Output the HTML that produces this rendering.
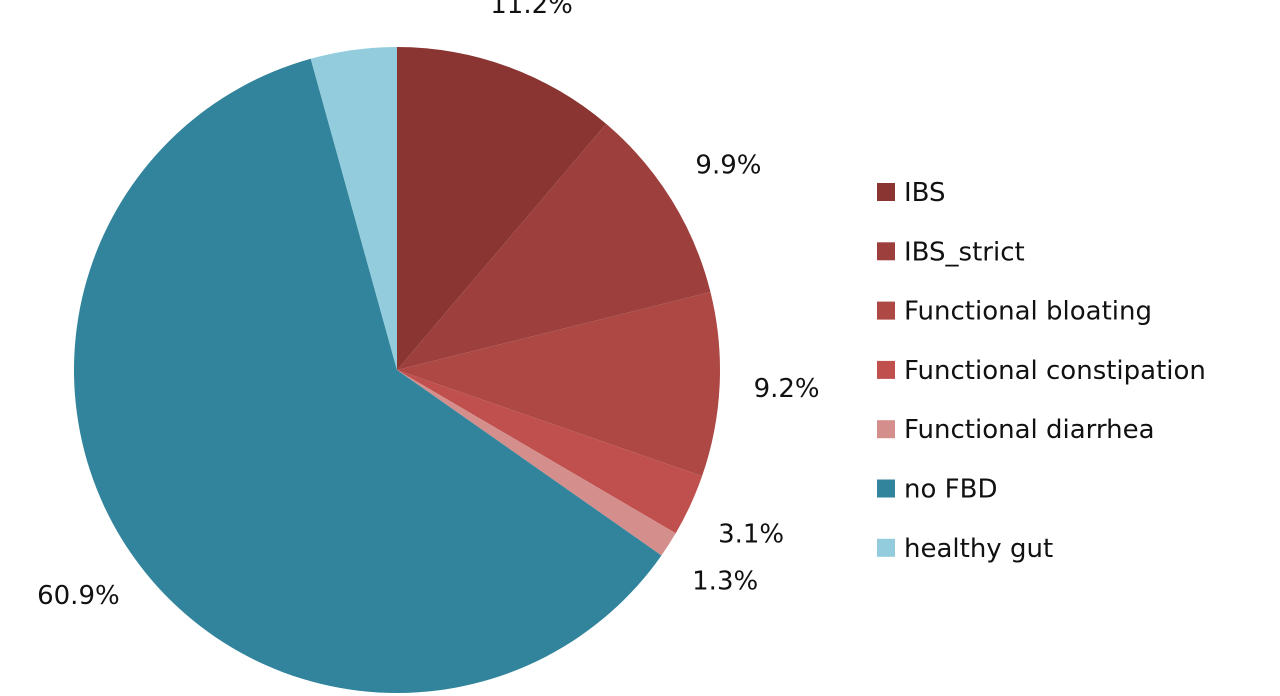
<!DOCTYPE html>
<html><head><meta charset="utf-8"><style>
html,body{margin:0;padding:0;background:#fff;}
svg{display:block;font-family:"DejaVu Sans","Liberation Sans",sans-serif;}
</style></head><body>
<svg id="chart" width="1280" height="696" viewBox="0 0 1280 696">
<g id="slices"></g>
<g id="labels"></g>
<g id="legend"></g>
</svg>
<script>
const categories = ["IBS","IBS_strict","Functional bloating","Functional constipation","Functional diarrhea","no FBD","healthy gut"];
const values = [11.2, 9.9, 9.2, 3.1, 1.3, 60.9, 4.3];
const valueLabels = ["11.2%","9.9%","9.2%","3.1%","1.3%","60.9%","4.3%"];
const colors = ["#8A3532","#9D3F3C","#AE4845","#C0504D","#D48F8D","#31849B","#93CDDD"];
const NS="http://www.w3.org/2000/svg";
const cx=397, cy=370, R=323, LR=390;
const total=values.reduce((a,b)=>a+b,0);
function pt(frac,r){const a=frac*2*Math.PI;return [cx+r*Math.sin(a), cy-r*Math.cos(a)];}
const gS=document.getElementById('slices'), gL=document.getElementById('labels'), gG=document.getElementById('legend');
let cum=0;
values.forEach((v,i)=>{
  const f0=cum/total, f1=(cum+v)/total; cum+=v;
  const p0=pt(f0,R), p1=pt(f1,R);
  const large=(f1-f0)>0.5?1:0;
  const path=document.createElementNS(NS,'path');
  path.setAttribute('d',`M${cx},${cy} L${p0[0]},${p0[1]} A${R},${R} 0 ${large} 1 ${p1[0]},${p1[1]} Z`);
  path.setAttribute('fill',colors[i]);
  
  
  gS.appendChild(path);
  const lp=pt((f0+f1)/2,LR);
  const t=document.createElementNS(NS,'text');
  t.setAttribute('x',lp[0]); t.setAttribute('y',lp[1]+9);
  t.setAttribute('text-anchor','middle'); t.setAttribute('font-size','26'); t.setAttribute('fill','#111');
  t.textContent=valueLabels[i];
  
  
  gL.appendChild(t);
});
categories.forEach((c,i)=>{
  const y=192+i*59.3;
  const g=document.createElementNS(NS,'g');
  
  
  const r=document.createElementNS(NS,'rect');
  r.setAttribute('x',877); r.setAttribute('y',y-9); r.setAttribute('width',18); r.setAttribute('height',18);
  r.setAttribute('fill',colors[i]);
  
  
  const t=document.createElementNS(NS,'text');
  t.setAttribute('x',904); t.setAttribute('y',y+9); t.setAttribute('font-size','26'); t.setAttribute('fill','#111');
  t.textContent=c;
  
  
  g.appendChild(r); g.appendChild(t); gG.appendChild(g);
});
</script>
</body></html>
